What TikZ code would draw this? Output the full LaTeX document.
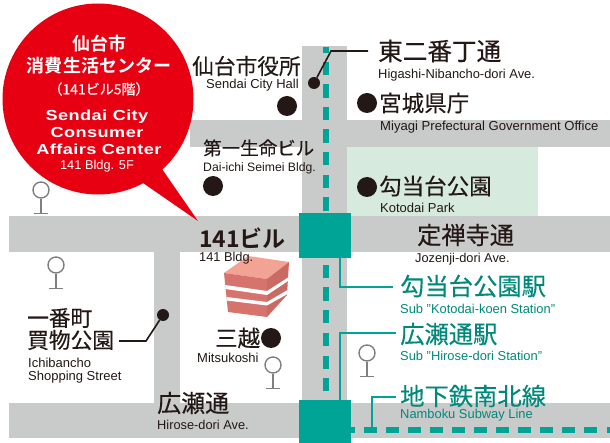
\documentclass[tikz,border=0pt]{standalone}
\usepackage{fontspec}
\setmainfont{Liberation Sans}
\newfontfamily\jp[FakeBold=0.25]{Noto Sans CJK JP}
\newfontfamily\jpb[BoldFont={Noto Sans CJK JP Bold}]{Noto Sans CJK JP}
\newfontfamily\widebold[FakeStretch=1.25,LetterSpace=3]{Liberation Sans Bold}
\usetikzlibrary{calc}
\definecolor{roadc}{HTML}{C9CACA}
\definecolor{parkc}{HTML}{D6EBDD}
\definecolor{redc}{HTML}{E60012}
\definecolor{tealc}{HTML}{00A496}
\definecolor{tealt}{HTML}{00897B}
\definecolor{inkc}{HTML}{231815}
\definecolor{signc}{HTML}{7F7F7F}
\definecolor{bldtop}{HTML}{F2A394}
\definecolor{bldleft}{HTML}{D5736C}
\definecolor{bldright}{HTML}{C96A63}
\newcommand{\fs}[1]{\fontsize{#1}{#1}\selectfont}
\tikzset{
 x=1pt,y=-1pt,
 lbl/.style={anchor=west,inner sep=0pt,text=inkc},
 jn/.style={lbl,font=\jp\fs{#1}},
 en/.style={lbl,font=\fs{#1}},
 tjn/.style={jn=#1,text=tealt},
 ten/.style={en=#1,text=tealt},
 wt/.style={anchor=center,inner sep=0pt,text=white,align=center},
 bigdot/.style={circle,fill=inkc,inner sep=0pt,minimum size=20pt},
 smalldot/.style={circle,fill=inkc,inner sep=0pt,minimum size=12pt},
 road/.style={fill=roadc},
 stationbox/.style={fill=tealc,inner sep=0pt,minimum width=52pt},
 lead/.style={draw=inkc,line width=1.6pt},
 tlead/.style={draw=tealc,line width=1.2pt},
 sign/.style={draw=signc,line width=1.4pt,circle,inner sep=0pt,minimum size=16pt,fill=white},
 signstem/.style={draw=signc,line width=1.4pt},
 metro/.style={fill=tealc},
}
\newcommand{\busstop}[3]{%
 \node[sign] (#1) at (#2,#3) {};
 \coordinate (#1b) at (#2,#3+23.5);
 \draw[signstem] (#1.south) -- (#1b);
 \draw[signstem] ($(#1b)+(-7,0)$) -- ($(#1b)+(7,0)$);
}
\begin{document}
\begin{tikzpicture}
\useasboundingbox (0,0) rectangle (610,443);
\fill[white] (0,0) rectangle (610,443);
% park
\fill[parkc] (347,147) rectangle (538,216);
% roads
\fill[road] (190,120) rectangle (610,147);
\fill[road] (9,216) rectangle (610,252);
\fill[road] (9,403) rectangle (610,438);
\fill[road] (302,46) rectangle (347,443);
\fill[road] (154,252) rectangle (180,403);
% metro line
\fill[metro] (323,47) rectangle (329,53);
\foreach \yy in {62,84.5,107,129.5,152,175,197.5,265,287.5,310,333,355.5,378}{
  \fill[metro] (323,\yy) rectangle (329,\yy+13.3);}
\foreach \xx in {364,386,408,430,452,474,496,518,540,562,584}{
  \fill[metro] (\xx,427) rectangle (\xx+13,433);}
\fill[metro] (349,427) rectangle (355,433);
\fill[metro] (607,427) rectangle (610,433);
% stations
\node[stationbox,minimum height=45pt] (stK) at (325,235.5) {};
\node[stationbox,minimum height=43pt] (stH) at (325,421.5) {};
% bubble
\fill[redc] (98,99) circle (95.5);
\fill[redc] (143,183) -- (198,221) -- (162,169) -- cycle;
\node[wt,font=\jpb\bfseries\fs{18}] (b1) at (99,44) {仙台市};
\node[wt,font=\jpb\bfseries\fs{18}] (b2) at (99,66) {消費生活センター};
\node[wt,font=\jp\fs{14}] (b3) at (99,89) {（141ビル5階）};
\node[wt,font=\widebold\fs{14.5}] (b4) at (97,117) {Sendai City};
\node[wt,font=\widebold\fs{14.5}] (b5) at (97,133) {Consumer};
\node[wt,font=\widebold\fs{14.5}] (b6) at (99,149) {Affairs Center};
\node[wt,font=\fs{12.8}] (b7) at (97,166.5) {141 Bldg. 5F};
% bus stops
\busstop{s1}{41}{190}
\busstop{s2}{56}{265}
\busstop{s3}{273}{365}
\busstop{s4}{367}{353}
% building
\fill[bldtop] (224,273) -- (248,256) -- (289,262) -- (267,279) -- cycle;
\fill[bldleft] (224,273) -- (267,279) -- (267,317) -- (228,312) -- cycle;
\fill[bldright] (267,279) -- (289,262) -- (287,295) -- (267,317) -- cycle;
\fill[white] (225.2,285) -- (267,291) -- (288,277.5) -- (288,281) -- (267,295) -- (225.5,289) -- cycle;
\fill[white] (226.5,297) -- (267,302) -- (287.5,290) -- (287.5,294) -- (267,305.5) -- (226.7,300.5) -- cycle;
% text and points
\node[jn=21.7] (hall) at (192,66) {仙台市役所};
\node[en=13] (hallE) at (206,85) {Sendai City Hall};
\node[bigdot] (hallD) at (287,106) {};
\node[jn=18.5] (dai) at (203,148) {第一生命ビル};
\node[en=12.2] (daiE) at (203,168) {Dai-ichi Seimei Bldg.};
\node[bigdot] (daiD) at (213,186) {};
\node[smalldot] (nibanD) at (314,83) {};
\node[jn=24.6] (niban) at (378,51) {東二番丁通};
\node[en=12.9] (nibanE) at (378,75) {Higashi-Nibancho-dori Ave.};
\coordinate (nibanBend) at (331,51);
\coordinate (nibanEnd) at (368,51);
\draw[lead] (nibanD) -- (nibanBend) -- (nibanEnd);
\node[bigdot] (kenD) at (367,103) {};
\node[jn=22.5] (ken) at (379,103) {宮城県庁};
\node[en=13.1] (kenE) at (380,127) {Miyagi Prefectural Government Office};
\node[bigdot] (parkD) at (367,187) {};
\node[jn=22.5] (park) at (379,186) {勾当台公園};
\node[en=13] (parkE) at (380,208) {Kotodai Park};
\node[lbl,font=\jpb\bfseries\fs{23}] (bld) at (199,238) {141ビル};
\node[en=12.8] (bldE) at (199,258) {141 Bldg.};
\node[jn=24.2] (joz) at (417,235) {定禅寺通};
\node[en=12.8] (jozE) at (415,259) {Jozenji-dori Ave.};
\node[tjn=24.3] (kot) at (400,286) {勾当台公園駅};
\node[ten=12.9] (kotE) at (400,309) {Sub "Kotodai-koen Station"};
\node[tjn=24.3] (hir) at (400,334) {広瀬通駅};
\node[ten=12.9] (hirE) at (400,356) {Sub "Hirose-dori Station"};
\node[tjn=24.3] (nam) at (400,396) {地下鉄南北線};
\node[ten=12.9] (namE) at (400,415) {Namboku Subway Line};
\coordinate (kotB) at (340,287); \coordinate (kotEnd) at (393,287);
\coordinate (hirB) at (340,333); \coordinate (hirEnd) at (396,333);
\coordinate (namS) at (372,427); \coordinate (namB) at (372,397); \coordinate (namEnd) at (396,397);
\draw[tlead] (stK.south -| kotB) -- (kotB) -- (kotEnd);
\draw[tlead] (stH.north -| hirB) -- (hirB) -- (hirEnd);
\draw[tlead] (namS) -- (namB) -- (namEnd);
\node[jn=21.7] (ichi1) at (27,318) {一番町};
\node[jn=21.7] (ichi2) at (27,340) {買物公園};
\node[en=13] (ichi3) at (28,363) {Ichibancho};
\node[en=13] (ichi4) at (28,377) {Shopping Street};
\node[smalldot] (ichiD) at (163,315) {};
\coordinate (ichiB) at (146,341); \coordinate (ichiEnd) at (119,341);
\draw[lead] (ichiD) -- (ichiB) -- (ichiEnd);
\node[jn=22.5] (mit) at (215,338) {三越};
\node[bigdot] (mitD) at (271,338) {};
\node[en=13] (mitE) at (197,358) {Mitsukoshi};
\node[jn=24] (hr) at (157,403) {広瀬通};
\node[en=12.8] (hrE) at (157,425) {Hirose-dori Ave.};
\end{tikzpicture}
\end{document}
